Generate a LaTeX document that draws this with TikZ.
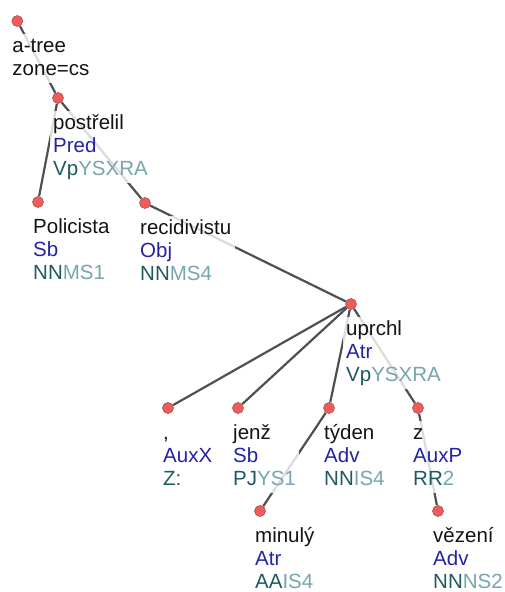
\documentclass[tikz,border=0pt]{standalone}
\usepackage{fontspec}
\setmainfont{Liberation Sans}
\usetikzlibrary{calc,fit}
\definecolor{edgec}{RGB}{80,80,80}
\definecolor{dotfill}{RGB}{240,92,92}
\definecolor{dotline}{RGB}{170,80,80}
\definecolor{wordc}{RGB}{20,20,20}
\definecolor{funcc}{RGB}{35,35,165}
\definecolor{tagd}{RGB}{30,90,95}
\definecolor{tagl}{RGB}{120,165,175}
\pgfdeclarelayer{bg}
\pgfdeclarelayer{edges}
\pgfdeclarelayer{boxes}
\pgfsetlayers{bg,edges,boxes,main}
\tikzset{
  dot/.style={circle, fill=dotfill, draw=dotline, line width=0.6pt, minimum size=11pt, inner sep=0pt},
  edge/.style={draw=edgec, line width=2.2pt},
  txt/.style={anchor=base west, inner sep=0pt, text height=15pt, text depth=5pt, font=\fontsize{20.5}{23}\selectfont},
  labbox/.style={fill=white, fill opacity=0.8, inner xsep=3pt, inner ysep=3pt, draw=none},
}
\newcommand\treenode[7]{%
  \node[dot] (#1) at (#2,#3) {};
  \node[txt, text=wordc] (#1w) at ($(#1)+(-5,31)$) {#4};
  \node[txt, text=funcc] (#1f) at ($(#1)+(-5,54)$) {#5};
  \node[txt, text=tagd] (#1t) at ($(#1)+(-5,77)$) {#6\textcolor{tagl}{#7}};
  \begin{pgfonlayer}{boxes}\node[labbox, fit=(#1w)(#1f)(#1t)] (#1b) {};\end{pgfonlayer}
}
\begin{document}
\begin{tikzpicture}[x=1pt,y=-1pt]
\begin{pgfonlayer}{bg}
\fill[white] (0,0) rectangle (504,592);
\end{pgfonlayer}
\useasboundingbox (0,0) rectangle (504,592);
% root
\node[dot] (root) at (17.3,21) {};
\node[txt, text=wordc] (rootw) at ($(root)+(-5,31)$) {a-tree};
\node[txt, text=wordc] (rootz) at ($(root)+(-5,54)$) {zone=cs};
\begin{pgfonlayer}{boxes}\node[labbox, fit=(rootw)(rootz)] (rootb) {};\end{pgfonlayer}
% tree nodes
\treenode{post}{58}{98}{postřelil}{Pred}{Vp}{YSXRA}
\treenode{pol}{38}{202}{Policista}{Sb}{NN}{MS1}
\treenode{rec}{145}{203}{recidivistu}{Obj}{NN}{MS4}
\treenode{upr}{351}{304}{uprchl}{Atr}{Vp}{YSXRA}
\treenode{com}{168}{408}{,}{AuxX}{Z:}{}
\treenode{jenz}{238}{408}{jenž}{Sb}{PJ}{YS1}
\treenode{tyd}{329}{408}{týden}{Adv}{NN}{IS4}
\treenode{zz}{418}{408}{z}{AuxP}{RR}{2}
\treenode{min}{260}{511}{minulý}{Atr}{AA}{IS4}
\treenode{vez}{438}{511}{vězení}{Adv}{NN}{NS2}
% edges
\begin{pgfonlayer}{edges}
\draw[edge] (root) -- (post);
\draw[edge] (post) -- (pol);
\draw[edge] (post) -- (rec);
\draw[edge] (rec) -- (upr);
\draw[edge] (upr) -- (com);
\draw[edge] (upr) -- (jenz);
\draw[edge] (upr) -- (tyd);
\draw[edge] (upr) -- (zz);
\draw[edge] (tyd) -- (min);
\draw[edge] (zz) -- (vez);
\end{pgfonlayer}
\end{tikzpicture}
\end{document}
